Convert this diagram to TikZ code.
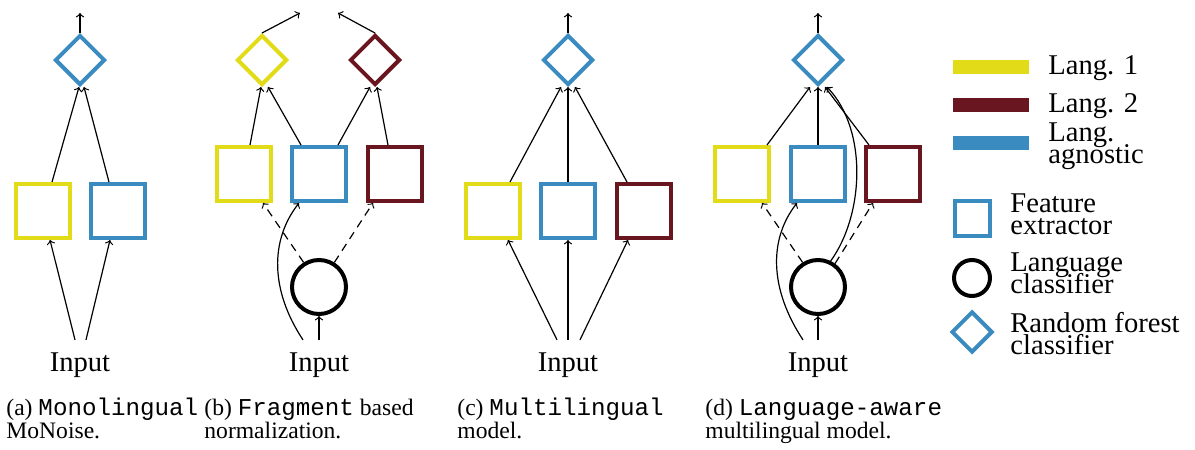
\documentclass[tikz,border=0pt]{standalone}
\usepackage{fontspec}
\setmainfont{Liberation Serif}
\setmonofont{Liberation Mono}[Scale=1.025]
\usetikzlibrary{shapes.geometric,calc}
\definecolor{ylw}{HTML}{E2DC18}
\definecolor{mrn}{HTML}{6A1620}
\definecolor{blu}{HTML}{3A8BC0}
\lineskiplimit=-\maxdimen
\tikzset{
  fbox/.style={draw=#1,line width=2pt,minimum size=27pt,inner sep=0pt},
  rfc/.style={draw=#1,line width=2pt,shape=diamond,minimum width=25pt,minimum height=25pt,inner sep=0pt},
  lcls/.style={draw=black,line width=2pt,shape=circle,minimum size=27pt,inner sep=0pt},
  inp/.style={font=\fontsize{14.3}{14.3}\selectfont,anchor=base,inner xsep=0pt,inner ysep=6pt},
  arr/.style={->,line width=0.6pt},
  darr/.style={->,line width=0.6pt,dash pattern=on 4pt off 3pt},
  captxt/.style={font=\fontsize{11.8}{11.5}\selectfont,anchor=base west,align=left,inner sep=0pt},
  legtxt/.style={font=\fontsize{14.3}{10.8}\selectfont,anchor=base west,align=left,inner sep=0pt},
  legbar/.style={fill=#1,minimum width=38pt,minimum height=7pt,inner sep=0pt},
}
\begin{document}
\begin{tikzpicture}[x=0.5pt,y=-0.5pt]
\useasboundingbox (0,0) rectangle (1195,450);
% ---------- panel a
\node[rfc=blu] (da) at (80,60) {};
\coordinate (ta) at (80,13);
\node[fbox=ylw] (ya) at (42.5,211) {};
\node[fbox=blu] (ba) at (118,211) {};
\node[inp] (ia) at (80,371) {Input};
\draw[arr] (da.north) -- (ta);
\draw[arr] ($(ya.north)+(9.5,0)$) -- ($(da.south)+(-1,0)$);
\draw[arr] ($(ba.north)+(-9,0)$) -- ($(da.south)+(4,0)$);
\draw[arr] ($(ia.north)+(-5,0)$) -- ($(ya.south)+(7.5,0)$);
\draw[arr] ($(ia.north)+(6,0)$) -- ($(ba.south)+(-8,0)$);
\node[captxt] (capa) at (6,438) {(a) \texttt{Monolingual}\\MoNoise.};
% ---------- panel b
\node[rfc=ylw] (ydb) at (262,60) {};
\node[rfc=mrn] (rdb) at (375,60) {};
\coordinate (tb1) at (300,13);
\coordinate (tb2) at (338,13);
\node[fbox=ylw] (yb) at (243.5,174) {};
\node[fbox=blu] (bb) at (319,174) {};
\node[fbox=mrn] (rb) at (395,174) {};
\node[lcls] (cb) at (319,287) {};
\node[inp] (ib) at (319,371) {Input};
\draw[arr] (ydb.north) -- (tb1);
\draw[arr] (rdb.north) -- (tb2);
\draw[arr] ($(yb.north)+(6.5,0)$) -- ($(ydb.south)+(-1,0)$);
\draw[arr] ($(bb.north)+(-18,0)$) -- ($(ydb.south)+(6,0)$);
\draw[arr] ($(bb.north)+(19,0)$) -- ($(rdb.south)+(-5,0)$);
\draw[arr] ($(rb.north)+(-7,0)$) -- ($(rdb.south)+(2,0)$);
\draw[darr] (cb.122) -- ($(yb.south)+(19.5,0)$);
\draw[darr] (cb.58) -- ($(rb.south)+(-22,0)$);
\draw[arr] ($(ib.north)+(-16,0)$) .. controls (270,290) and (270,240) .. ($(bb.south)+(-20,0)$);
\draw[arr] (ib.north) -- (cb.south);
\node[captxt] (capb) at (204,438) {(b) \texttt{Fragment} based\\normalization.};
% ---------- panel c
\node[rfc=blu] (dc) at (568,60) {};
\coordinate (tc) at (568,13);
\node[fbox=ylw] (yc) at (492.5,211) {};
\node[fbox=blu] (bc) at (568,211) {};
\node[fbox=mrn] (rc) at (644,211) {};
\node[inp] (ic) at (568,371) {Input};
\draw[arr] (dc.north) -- (tc);
\draw[arr] ($(yc.north)+(17.5,0)$) -- ($(dc.south)+(-7,0)$);
\draw[arr] (bc.north) -- (dc.south);
\draw[arr] ($(rc.north)+(-17,0)$) -- ($(dc.south)+(7,0)$);
\draw[arr] ($(ic.north)+(-11,0)$) -- ($(yc.south)+(15.5,0)$);
\draw[arr] (ic.north) -- (bc.south);
\draw[arr] ($(ic.north)+(12,0)$) -- ($(rc.south)+(-16,0)$);
\node[captxt] (capc) at (457,438) {(c) \texttt{Multilingual}\\model.};
% ---------- panel d
\node[rfc=blu] (dd) at (818,60) {};
\coordinate (td) at (818,13);
\node[fbox=ylw] (yd) at (742,174) {};
\node[fbox=blu] (bd) at (818,174) {};
\node[fbox=mrn] (rd) at (893,174) {};
\node[lcls] (cd) at (818,287) {};
\node[inp] (id) at (818,371) {Input};
\draw[arr] (dd.north) -- (td);
\draw[arr] ($(yd.north)+(25,0)$) -- ($(dd.south)+(-8,0)$);
\draw[arr] (bd.north) -- (dd.south);
\draw[arr] ($(rd.north)+(-24,0)$) -- ($(dd.south)+(7,0)$);
\draw[arr] (cd.64) .. controls (864,215) and (868,130) .. ($(dd.south)+(9,0)$);
\draw[darr] (cd.122) -- ($(yd.south)+(20,0)$);
\draw[darr] (cd.54) -- ($(rd.south)+(-20,0)$);
\draw[arr] ($(id.north)+(-15,0)$) .. controls (770,290) and (768,240) .. ($(bd.south)+(-21,0)$);
\draw[arr] (id.north) -- (cd.south);
\node[captxt] (capd) at (705,438) {(d) \texttt{Language-aware}\\multilingual model.};
% ---------- legend
\node[legbar=ylw] (l1) at (991,67) {};
\node[legbar=mrn] (l2) at (991,105) {};
\node[legbar=blu] (l3) at (991,143) {};
\node[legtxt] (l1t) at (1048,74) {Lang. 1};
\node[legtxt] (l2t) at (1048,112) {Lang. 2};
\node[legtxt] (l3t) at (1048,163) {Lang.\\agnostic};
\node[draw=blu,line width=2pt,minimum size=17.5pt,inner sep=0pt] (lf) at (972.5,218.5) {};
\node[legtxt] (lft) at (1010,234) {Feature\\extractor};
\node[draw=black,line width=2pt,shape=circle,minimum size=18pt,inner sep=0pt] (lc) at (972,278) {};
\node[legtxt] (lct) at (1010,293) {Language\\classifier};
\node[draw=blu,line width=2pt,shape=diamond,minimum width=20.5pt,minimum height=20.5pt,inner sep=0pt] (lr) at (972,332) {};
\node[legtxt] (lrt) at (1010,354) {Random forest\\classifier};
\end{tikzpicture}
\end{document}
